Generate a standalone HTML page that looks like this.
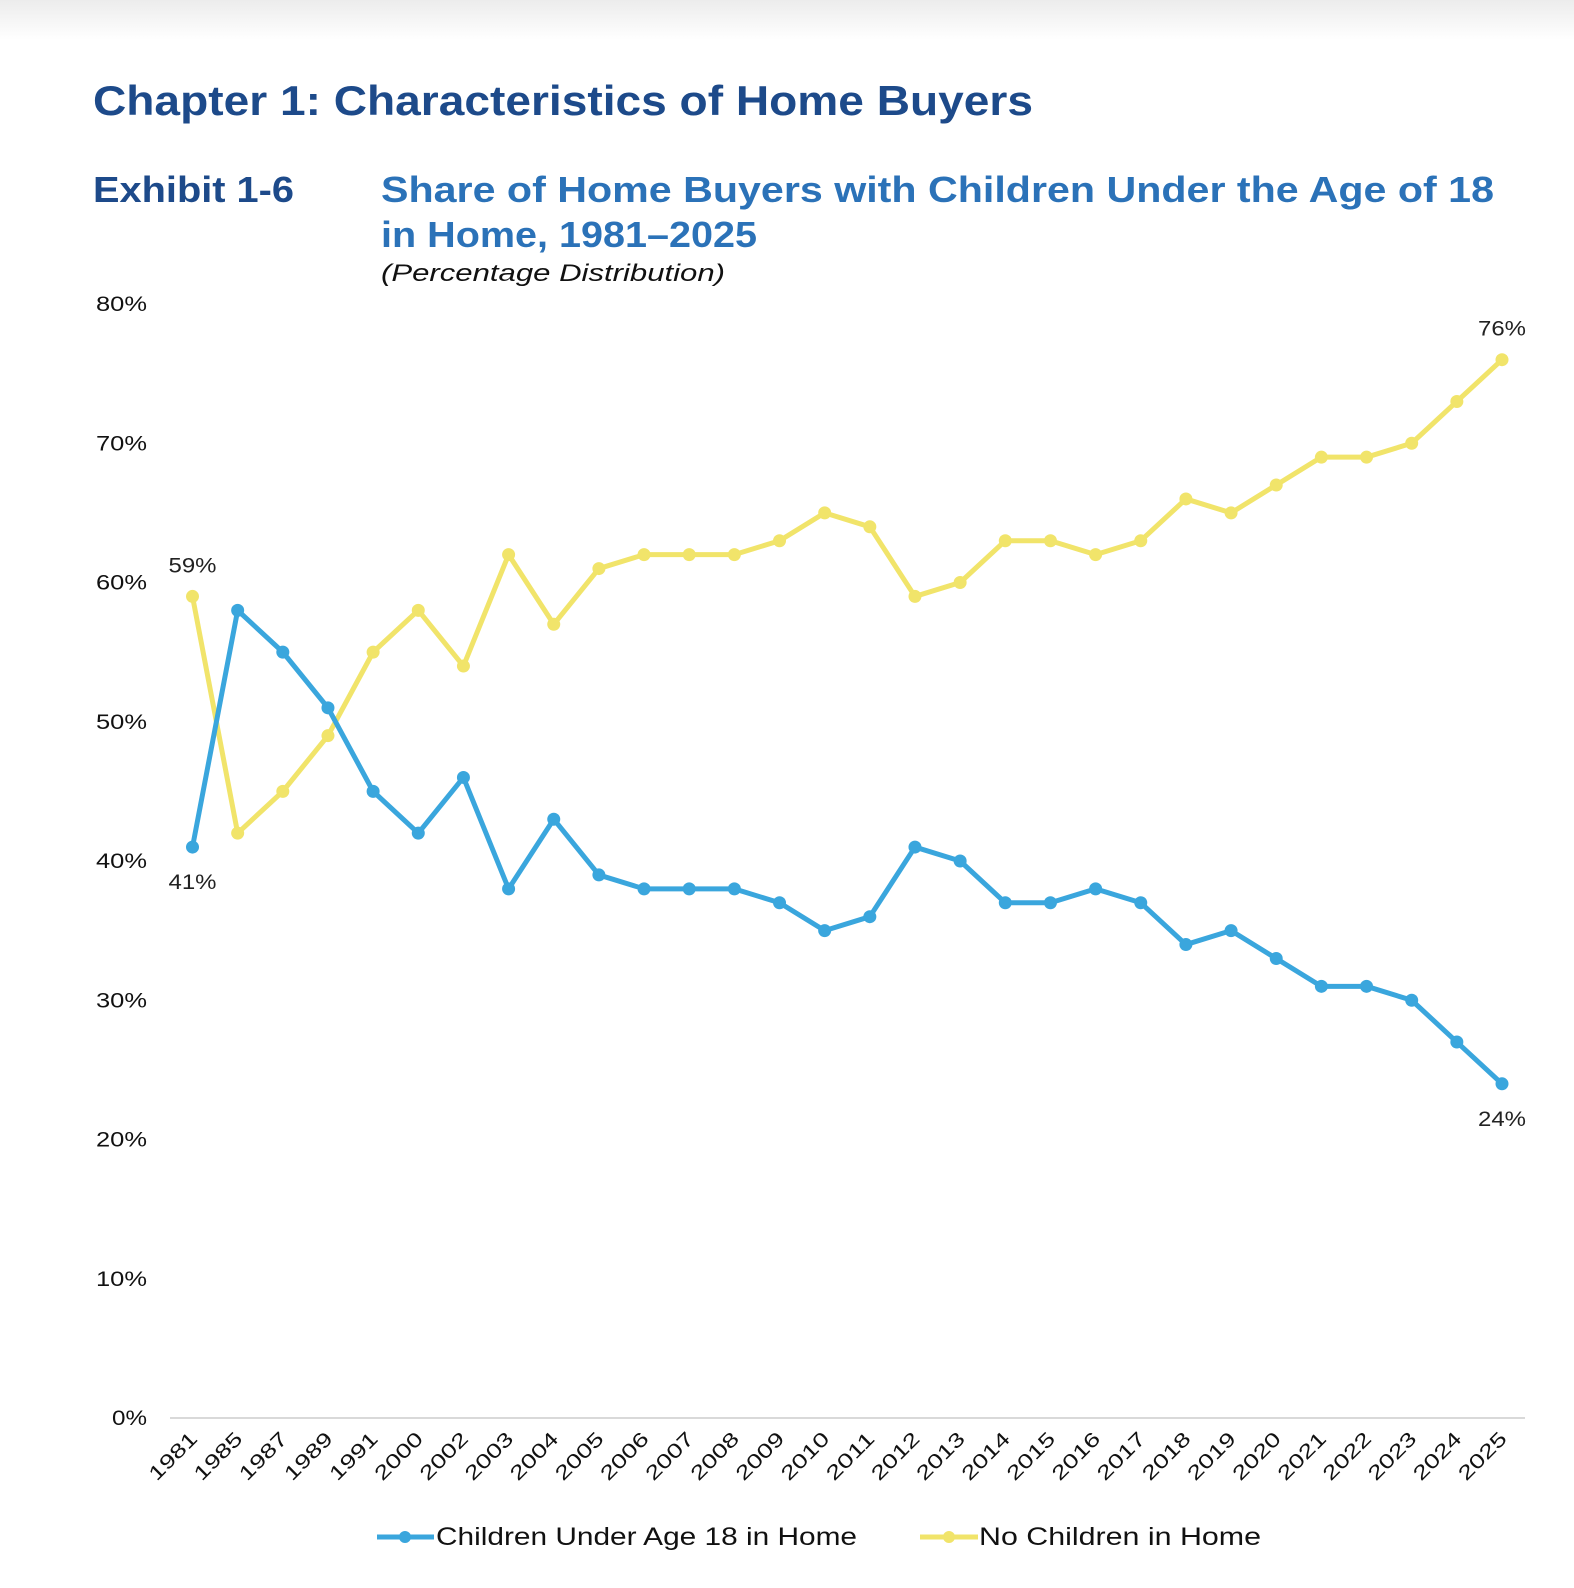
<!DOCTYPE html>
<html><head><meta charset="utf-8"><style>
body{margin:0;background:#fff;}
svg{display:block;font-family:"Liberation Sans",sans-serif;}
</style></head><body>
<svg id="chart" width="1574" height="1588" viewBox="0 0 1574 1588" xmlns="http://www.w3.org/2000/svg">
<defs><linearGradient id="sh" x1="0" y1="0" x2="0" y2="1"><stop offset="0" stop-color="#ececec"/><stop offset="1" stop-color="#ffffff"/></linearGradient></defs>
<rect x="0" y="0" width="1574" height="40" fill="url(#sh)"/>
<text x="93" y="115" font-size="42" font-weight="bold" fill="#1d4a8a" textLength="940" lengthAdjust="spacingAndGlyphs">Chapter 1: Characteristics of Home Buyers</text>
<text x="93" y="202" font-size="36" font-weight="bold" fill="#1d4a8a" textLength="201" lengthAdjust="spacingAndGlyphs">Exhibit 1-6</text>
<text x="381" y="202" font-size="36" font-weight="bold" fill="#2b72b8" textLength="1113" lengthAdjust="spacingAndGlyphs">Share of Home Buyers with Children Under the Age of 18</text>
<text x="381" y="247" font-size="36" font-weight="bold" fill="#2b72b8" textLength="376" lengthAdjust="spacingAndGlyphs">in Home, 1981–2025</text>
<text x="381" y="281" font-size="24" font-style="italic" fill="#111" textLength="344" lengthAdjust="spacingAndGlyphs">(Percentage Distribution)</text>
<g id="plot"></g>
<g>
<line x1="377" y1="1537" x2="434" y2="1537" stroke="#3aa6dd" stroke-width="5"/>
<circle cx="405" cy="1537" r="6" fill="#3aa6dd"/>
<text x="436" y="1545" font-size="25" fill="#111" textLength="421" lengthAdjust="spacingAndGlyphs">Children Under Age 18 in Home</text>
<line x1="920" y1="1537" x2="978" y2="1537" stroke="#f1e46a" stroke-width="5"/>
<circle cx="949" cy="1537" r="6" fill="#f1e46a"/>
<text x="979" y="1545" font-size="25" fill="#111" textLength="282" lengthAdjust="spacingAndGlyphs">No Children in Home</text>
</g>
</svg>
<script>
const years=["1981","1985","1987","1989","1991","2000","2002","2003","2004","2005","2006","2007","2008","2009","2010","2011","2012","2013","2014","2015","2016","2017","2018","2019","2020","2021","2022","2023","2024","2025"];
const children=[41,58,55,51,45,42,46,38,43,39,38,38,38,37,35,36,41,40,37,37,38,37,34,35,33,31,31,30,27,24];
const noChildren=[59,42,45,49,55,58,54,62,57,61,62,62,62,63,65,64,59,60,63,63,62,63,66,65,67,69,69,70,73,76];
const yTicks=[0,10,20,30,40,50,60,70,80];
const NS="http://www.w3.org/2000/svg";
const g=document.getElementById('plot');
const x0=192.5,x1=1502,y0=1418,y80=304;
function xs(i){return x0+(x1-x0)*i/(years.length-1);}
function ys(v){return y0-(y0-y80)*v/80;}
function mk(t,a){const e=document.createElementNS(NS,t);for(const k in a)e.setAttribute(k,a[k]);g.appendChild(e);return e;}
const axis=mk('line',{x1:170,y1:y0,x2:1525,y2:y0,stroke:'#d9d9d9','stroke-width':2});


yTicks.forEach(v=>{
 const s=v+'%';
 const t=mk('text',{x:147,y:ys(v)+7,'text-anchor':'end','font-size':21,fill:'#111',textLength:s.length===2?35:51,lengthAdjust:'spacingAndGlyphs'});
 
 
 t.textContent=s;
});
years.forEach((yr,i)=>{
 const px=xs(i)+6,py=y0+22;
 const t=mk('text',{x:px,y:py,'text-anchor':'end','font-size':20,fill:'#111',textLength:59,lengthAdjust:'spacingAndGlyphs',transform:`rotate(-45 ${px} ${py})`});
 
 
 t.textContent=yr;
});
function series(vals,color,name){
 const p=mk('polyline',{points:vals.map((v,i)=>xs(i)+','+ys(v)).join(' '),fill:'none',stroke:color,'stroke-width':5,'stroke-linejoin':'round'});
 
 
 vals.forEach((v,i)=>{
  const c=mk('circle',{cx:xs(i),cy:ys(v),r:6.5,fill:color});
  
  
 });
}
series(noChildren,'#f1e46a','no-children');
series(children,'#3aa6dd','children');
function lbl(i,v,dy){
 const t=mk('text',{x:xs(i),y:ys(v)+dy,'text-anchor':'middle','font-size':21,fill:'#222',textLength:48,lengthAdjust:'spacingAndGlyphs'});
 
 
 t.textContent=v+'%';
}
const L=years.length-1;
lbl(0,noChildren[0],-24);
lbl(0,children[0],42);
lbl(L,noChildren[L],-24);
lbl(L,children[L],42);
</script>
</body></html>
